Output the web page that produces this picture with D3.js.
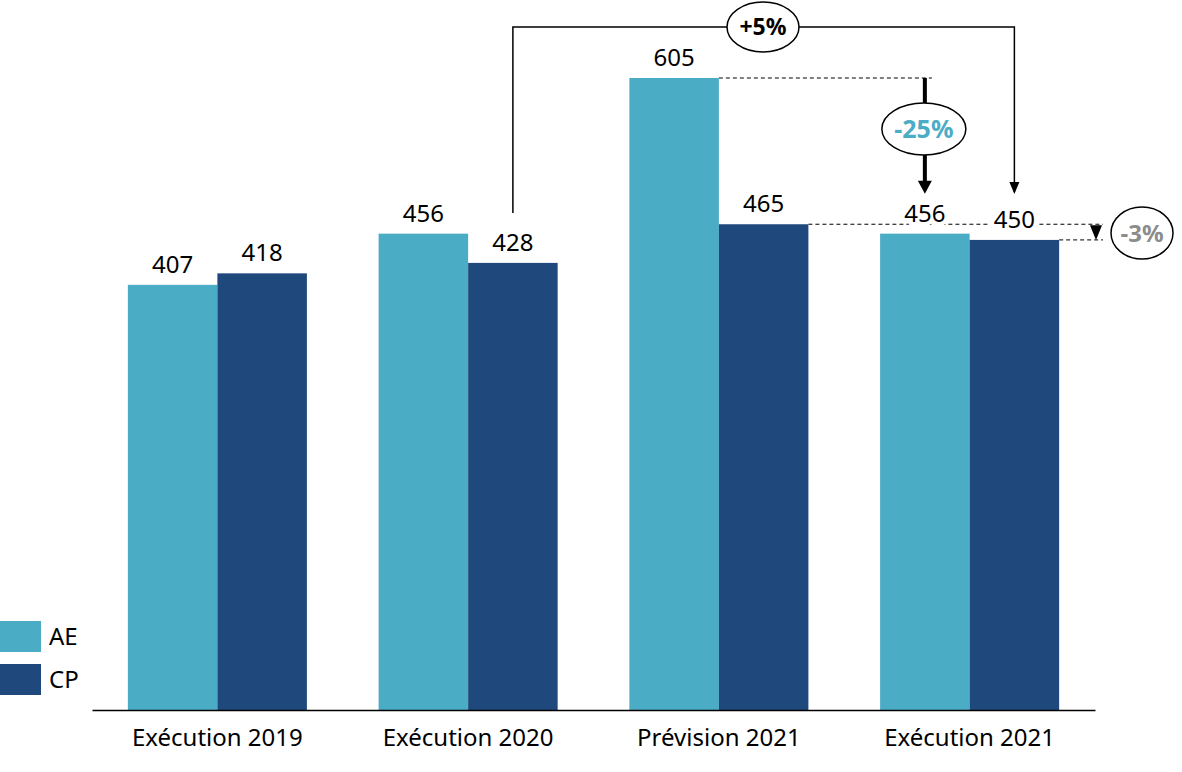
<!DOCTYPE html>
<html>
<head>
<meta charset="utf-8">
<script src="https://cdn.jsdelivr.net/npm/d3@7"></script>
<style>
  body { margin: 0; background: #fff; }
  text { font-family: "Noto Sans", sans-serif; }
</style>
</head>
<body>
<div id="graph"></div>
<script>
"use strict";

var categories = ["Exécution 2019", "Exécution 2020", "Prévision 2021", "Exécution 2021"];
var seriesNames = ["AE", "CP"];
var aeValues = [407, 456, 605, 456];
var cpValues = [418, 428, 465, 450];
var colors = {AE: "#4bacc6", CP: "#1f497d"};

var width = 1182, height = 772;
var svg = d3.select("#graph").append("svg")
  .attr("width", width)
  .attr("height", height);

var x0 = d3.scaleBand().domain(categories).range([92, 1095]).paddingInner(0.286).paddingOuter(0.143);
var x1 = d3.scaleBand().domain(seriesNames).range([0, x0.bandwidth()]);
var y = d3.scaleLinear().domain([0, 605]).range([710, 78]);

var data = categories.map(function(c, i) {
  return {cat: c, values: [{key: "AE", v: aeValues[i]}, {key: "CP", v: cpValues[i]}]};
});

// helpers for annotation positions
function cx(cat, key) { return x0(cat) + x1(key) + x1.bandwidth() / 2; }
function right(cat, key) { return x0(cat) + x1(key) + x1.bandwidth(); }

// dashed reference lines (drawn first, labels cover them)
var dash = svg.append("g").attr("stroke", "#000").attr("stroke-width", 1).attr("stroke-dasharray", "4,3");
dash.append("line")
  .attr("x1", right(categories[2], "AE")).attr("x2", cx(categories[3], "AE") + 7)
  .attr("y1", y(aeValues[2])).attr("y2", y(aeValues[2]));
dash.append("line")
  .attr("x1", right(categories[2], "CP")).attr("x2", 1103)
  .attr("y1", y(cpValues[2])).attr("y2", y(cpValues[2]));
dash.append("line")
  .attr("x1", right(categories[3], "CP")).attr("x2", 1103)
  .attr("y1", y(cpValues[3])).attr("y2", y(cpValues[3]));

// bars
var groups = svg.selectAll("g.group").data(data).enter().append("g")
  .attr("class", "group")
  .attr("transform", function(d) { return "translate(" + x0(d.cat) + ",0)"; });

groups.selectAll("rect").data(function(d) { return d.values; }).enter().append("rect")
  .attr("x", function(d) { return x1(d.key); })
  .attr("y", function(d) { return y(d.v); })
  .attr("width", x1.bandwidth())
  .attr("height", function(d) { return y(0) - y(d.v); })
  .attr("fill", function(d) { return colors[d.key]; });

groups.selectAll("text.val").data(function(d) { return d.values; }).enter().append("text")
  .attr("class", "val")
  .attr("x", function(d) { return x1(d.key) + x1.bandwidth() / 2; })
  .attr("y", function(d) { return y(d.v) - 12; })
  .attr("text-anchor", "middle")
  .attr("font-size", 24)
  .attr("fill", "#000")
  .attr("stroke", "#fff").attr("stroke-width", 8).attr("paint-order", "stroke")
  .text(function(d) { return d.v; });

// x axis
var xAxis = svg.append("g")
  .attr("transform", "translate(0," + y(0) + ")")
  .call(d3.axisBottom(x0).tickSize(0).tickPadding(19));
xAxis.select(".domain").attr("stroke", "#000").attr("stroke-width", 1.5);
xAxis.selectAll("text").attr("font-size", 24).attr("fill", "#000").attr("font-family", "Noto Sans");

// legend
var legend = svg.append("g");
seriesNames.forEach(function(s, i) {
  legend.append("rect").attr("x", 0).attr("y", 621 + i * 43).attr("width", 41).attr("height", 31).attr("fill", colors[s]);
  legend.append("text").attr("x", 49).attr("y", 645 + i * 43).attr("font-size", 24).attr("fill", "#000").text(s);
});

// +5% bracket (CP 2020 -> CP 2021)
var bx1 = cx(categories[1], "CP"), bx2 = cx(categories[3], "CP");
var topY = 27;
svg.append("path")
  .attr("d", "M" + bx1 + "," + (y(cpValues[1]) - 50) + "V" + topY + "H" + bx2 + "V" + (y(cpValues[3]) - 48))
  .attr("fill", "none").attr("stroke", "#000").attr("stroke-width", 1.5);
svg.append("path")
  .attr("d", "M" + (bx2 - 5) + "," + (y(cpValues[3]) - 58) + "L" + (bx2 + 5) + "," + (y(cpValues[3]) - 58) + "L" + bx2 + "," + (y(cpValues[3]) - 46) + "Z")
  .attr("fill", "#000");
svg.append("ellipse").attr("cx", 763).attr("cy", topY).attr("rx", 36).attr("ry", 25)
  .attr("fill", "#fff").attr("stroke", "#000").attr("stroke-width", 1.5);
svg.append("text").attr("x", 763).attr("y", topY + 8).attr("text-anchor", "middle")
  .attr("font-size", 23).attr("font-weight", "bold").attr("fill", "#000").text("+5%");

// -25% thick arrow (AE prévision -> AE exécution 2021)
var ax = cx(categories[3], "AE");
var arrowEnd = y(aeValues[3]) - 40;
svg.append("line").attr("x1", ax).attr("x2", ax).attr("y1", y(aeValues[2])).attr("y2", arrowEnd - 10)
  .attr("stroke", "#000").attr("stroke-width", 4);
svg.append("path")
  .attr("d", "M" + (ax - 7) + "," + (arrowEnd - 13) + "L" + (ax + 7) + "," + (arrowEnd - 13) + "L" + ax + "," + arrowEnd + "Z")
  .attr("fill", "#000");
svg.append("ellipse").attr("cx", ax - 1).attr("cy", 129).attr("rx", 42).attr("ry", 26)
  .attr("fill", "#fff").attr("stroke", "#000").attr("stroke-width", 1.5);
svg.append("text").attr("x", ax - 1).attr("y", 138).attr("text-anchor", "middle")
  .attr("font-size", 25).attr("font-weight", "bold").attr("fill", colors.AE).text("-25%");

// -3% (CP prévision -> CP exécution 2021)
var tx = 1096;
svg.append("path")
  .attr("d", "M" + (tx - 6) + "," + (y(cpValues[2]) + 1) + "L" + (tx + 6) + "," + (y(cpValues[2]) + 1) + "L" + tx + "," + y(cpValues[3]) + "Z")
  .attr("fill", "#000");
svg.append("ellipse").attr("cx", 1142).attr("cy", 233).attr("rx", 31).attr("ry", 26)
  .attr("fill", "#fff").attr("stroke", "#000").attr("stroke-width", 1.5);
svg.append("text").attr("x", 1142).attr("y", 242).attr("text-anchor", "middle")
  .attr("font-size", 24).attr("font-weight", "bold").attr("fill", "#8c8c8c").text("-3%");
</script>
</body>
</html>
